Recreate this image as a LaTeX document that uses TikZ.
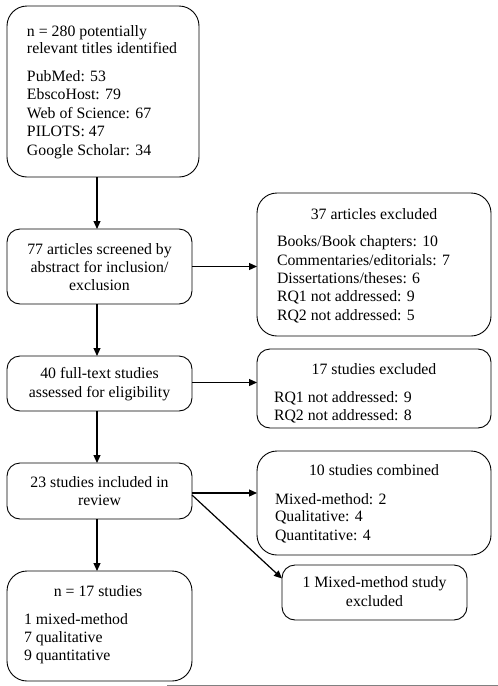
\documentclass[tikz,border=0pt]{standalone}
\usepackage{fontspec}
\setmainfont{Liberation Serif}
\usetikzlibrary{arrows.meta}
\tikzset{
  box/.style={draw, line width=0.9pt, inner sep=0pt, outer sep=0pt},
  bigr/.style={rounded corners=20pt},
  smallr/.style={rounded corners=13pt},
  txt/.style={inner sep=0pt, outer sep=0pt, font=\fontsize{15.8}{18.5}\selectfont},
  lt/.style={txt, anchor=base west},
  ct/.style={txt, anchor=base},
  arr/.style={line width=1.2pt, -{Triangle[length=8pt,width=7pt]}},
}
\begin{document}
\begin{tikzpicture}[x=1pt,y=-1pt]
\useasboundingbox (0,0) rectangle (498,686);
% boxes
\node[box,bigr,minimum width=192pt,minimum height=171pt] (b1) at (103,91.5) {};
\node[box,smallr,minimum width=185pt,minimum height=75pt] (b2) at (99.5,266.5) {};
\node[box,smallr,minimum width=185pt,minimum height=55pt] (b3) at (99.5,383.5) {};
\node[box,bigr,minimum width=234pt,minimum height=143pt] (b4) at (374,264.5) {};
\node[box,smallr,minimum width=234pt,minimum height=79pt] (b5) at (374,388.5) {};
\node[box,smallr,minimum width=185pt,minimum height=56pt] (b6) at (99.5,491) {};
\node[box,bigr,minimum width=185pt,minimum height=110pt] (b7) at (99.5,626) {};
\node[box,bigr,minimum width=234pt,minimum height=104pt] (b8) at (374,503) {};
\node[box,smallr,minimum width=185pt,minimum height=55pt] (b9) at (374.5,592.5) {};
% texts
\node[lt] (t1a) at (27,36) {n = 280 potentially};
\node[lt] (t1b) at (27,53.5) {relevant titles identified};
\node[lt] (t1c) at (27,81) {PubMed: 53};
\node[lt] (t1d) at (27,99.5) {EbscoHost: 79};
\node[lt] (t1e) at (27,118) {Web of Science: 67};
\node[lt] (t1f) at (27,136.5) {PILOTS: 47};
\node[lt] (t1g) at (27,155) {Google Scholar: 34};
\node[ct] (t2a) at (99.5,254) {77 articles screened by};
\node[ct] (t2b) at (99.5,272) {abstract for inclusion/};
\node[ct] (t2c) at (99.5,290) {exclusion};
\node[ct] (t3a) at (99.5,378.7) {40 full-text studies};
\node[ct] (t3b) at (99.5,397.5) {assessed for eligibility};
\node[ct] (t4a) at (374,219) {37 articles excluded};
\node[lt] (t4b) at (277,246.7) {Books/Book chapters: 10};
\node[lt] (t4c) at (277,265) {Commentaries/editorials: 7};
\node[lt] (t4d) at (277,283.3) {Dissertations/theses: 6};
\node[lt] (t4e) at (277,301.7) {RQ1 not addressed: 9};
\node[lt] (t4f) at (277,320) {RQ2 not addressed: 5};
\node[ct] (t5a) at (374,374) {17 studies excluded};
\node[lt] (t5b) at (274,402.3) {RQ1 not addressed: 9};
\node[lt] (t5c) at (274,420.7) {RQ2 not addressed: 8};
\node[ct] (t6a) at (99.5,487.3) {23 studies included in};
\node[ct] (t6b) at (99.5,505.7) {review};
\node[ct] (t7a) at (98,596.7) {n = 17 studies};
\node[lt] (t7b) at (24,624.7) {1 mixed-method};
\node[lt] (t7c) at (24,642.7) {7 qualitative};
\node[lt] (t7d) at (24,660.7) {9 quantitative};
\node[ct] (t8a) at (374,475.7) {10 studies combined};
\node[lt] (t8b) at (275,504) {Mixed-method: 2};
\node[lt] (t8c) at (275,521.7) {Qualitative: 4};
\node[lt] (t8d) at (275,540) {Quantitative: 4};
\node[ct] (t9a) at (374.5,587.3) {1 Mixed-method study};
\node[ct] (t9b) at (374.5,606) {excluded};
% connectors
\coordinate (ax) at (97,0);
\coordinate (s3) at ([yshift=1pt]b3.east);
\coordinate (s6h) at ([yshift=-2pt]b6.east);
\coordinate (s6d) at ([yshift=-4pt]b6.east);
\coordinate (e9) at ([yshift=14pt]b9.west);
\draw[arr] (b1.south -| ax) -- (b2.north -| ax);
\draw[arr] (b2.south -| ax) -- (b3.north -| ax);
\draw[arr] (b3.south -| ax) -- (b6.north -| ax);
\draw[arr] (b6.south -| ax) -- (b7.north -| ax);
\draw[arr] (b2.east) -- (b4.west |- b2.east);
\draw[arr] (s3) -- (b5.west |- s3);
\draw[arr] (s6h) -- (b8.west |- s6h);
\draw[arr] (s6d) -- (e9);
% page rule
\draw[gray, line width=0.8pt] (167,685) -- (498,685);
\end{tikzpicture}
\end{document}
